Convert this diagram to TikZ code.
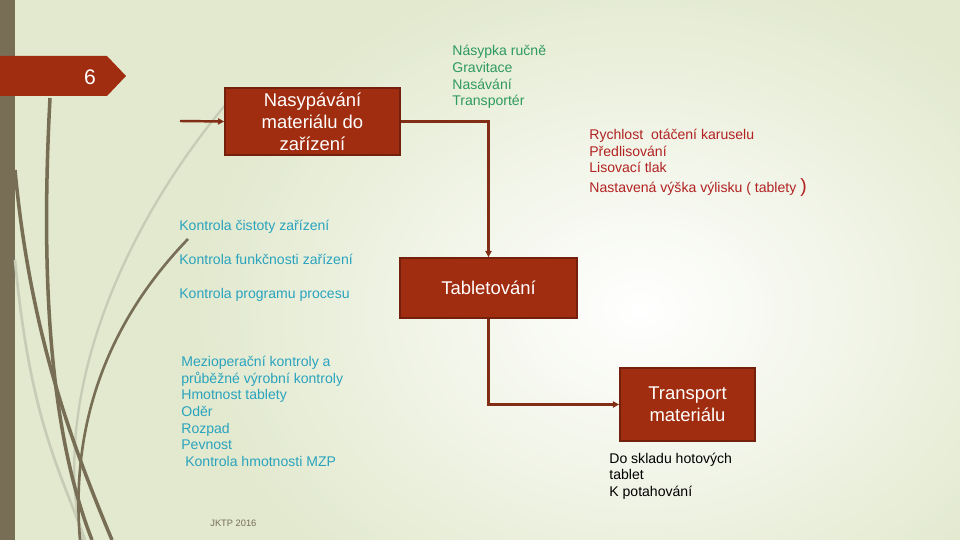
\documentclass[tikz,border=0pt]{standalone}
\usepackage{fontspec}
\setmainfont{Liberation Sans}
\usepackage{xcolor}
\usetikzlibrary{arrows.meta,positioning}
\definecolor{slidebg}{RGB}{226,233,206}
\definecolor{barolive}{RGB}{119,110,85}
\definecolor{grasslight}{RGB}{200,203,181}
\definecolor{boxred}{RGB}{160,45,15}
\definecolor{boxedge}{RGB}{115,32,12}
\definecolor{linkred}{RGB}{130,45,22}
\definecolor{notegreen}{RGB}{46,154,94}
\definecolor{notered}{RGB}{178,34,34}
\definecolor{notecyan}{RGB}{42,163,190}

\begin{document}
\begin{tikzpicture}[x=0.02cm,y=-0.02cm,
  box/.style={draw=boxedge,line width=1pt,fill=boxred,text=white,align=center,inner sep=2pt,font=\fontsize{10.5}{12.5}\selectfont},
  link/.style={draw=linkred,line width=1.4pt,-{Triangle[length=3.5pt,width=3.5pt]}},
  note/.style={anchor=base west,align=left,inner sep=0pt,font=\fontsize{8}{9.5}\selectfont},
  grass/.style={draw=barolive,line width=2pt}]
\useasboundingbox (0,0) rectangle (960,540);
\fill[slidebg] (0,0) rectangle (960,540);
\begin{scope}
\clip (0,0) rectangle (960,540);
\shade[inner color=white,outer color=slidebg] (640,310) ellipse (9cm and 7cm);
\end{scope}
\fill[barolive] (0,0) rectangle (15,540);
% grass strokes
\draw[grasslight,line width=1.3pt] (227,103) .. controls (120,230) and (50,400) .. (82,540);
\draw[grasslight,line width=1.5pt] (15,260) .. controls (30,420) and (60,470) .. (85,540);
\draw[grass] (50,98) .. controls (42,250) and (45,420) .. (92,540);
\draw[grass] (15,170) .. controls (30,330) and (70,440) .. (112,540);
\draw[grass,line width=1.5pt] (188,239) .. controls (110,320) and (70,420) .. (80,540);
% banner
\fill[boxred] (0,56) -- (107,56) -- (126,76) -- (107,96) -- (0,96) -- cycle;
\node[text=white,font=\fontsize{12}{14}\selectfont] (num) at (90,77) {6};
% boxes
\node[box,minimum width=3.5cm,minimum height=1.34cm] (nasyp) at (312.5,121.5) {Nasypávání\\materiálu do\\zařízení};
\node[box,minimum width=3.54cm,minimum height=1.2cm] (tablet) at (488.5,288) {Tabletování};
\node[box,minimum width=2.7cm,minimum height=1.46cm] (transport) at (687.5,404.5) {Transport\\materiálu};
\coordinate (feed) at (180,121);
\draw[link] (feed) -- (nasyp.west);
\draw[link] (nasyp.east) -| (tablet.north);
\draw[link] (tablet.south) |- (transport.west);
% notes (base = last line)
\node[note,text=notegreen] (fill) at (452,106) {Násypka ručně\\Gravitace\\Nasávání\\Transportér};
\node[note,text=notered] (setup) at (589,193) {Rychlost\ \ otáčení karuselu\\Předlisování\\Lisovací tlak\\[2pt]Nastavená výška výlisku ( tablety {\fontsize{11}{12}\selectfont)}};
\node[note,text=notecyan] (clean) at (179,231) {Kontrola čistoty zařízení};
\node[note,text=notecyan] (func) at (179,265) {Kontrola funkčnosti zařízení};
\node[note,text=notecyan] (prog) at (179,299) {Kontrola programu procesu};
\node[note,text=notecyan] (ipc) at (181,466.5) {Mezioperační kontroly a\\průběžné výrobní kontroly\\Hmotnost tablety\\Oděr\\Rozpad\\Pevnost\\\ Kontrola hmotnosti MZP};
\node[note] (store) at (609,496.5) {Do skladu hotových\\tablet\\K potahování};
\node[note,text=barolive,font=\fontsize{5.3}{6}\selectfont] (footer) at (210,526) {JKTP 2016};
\end{tikzpicture}
\end{document}
